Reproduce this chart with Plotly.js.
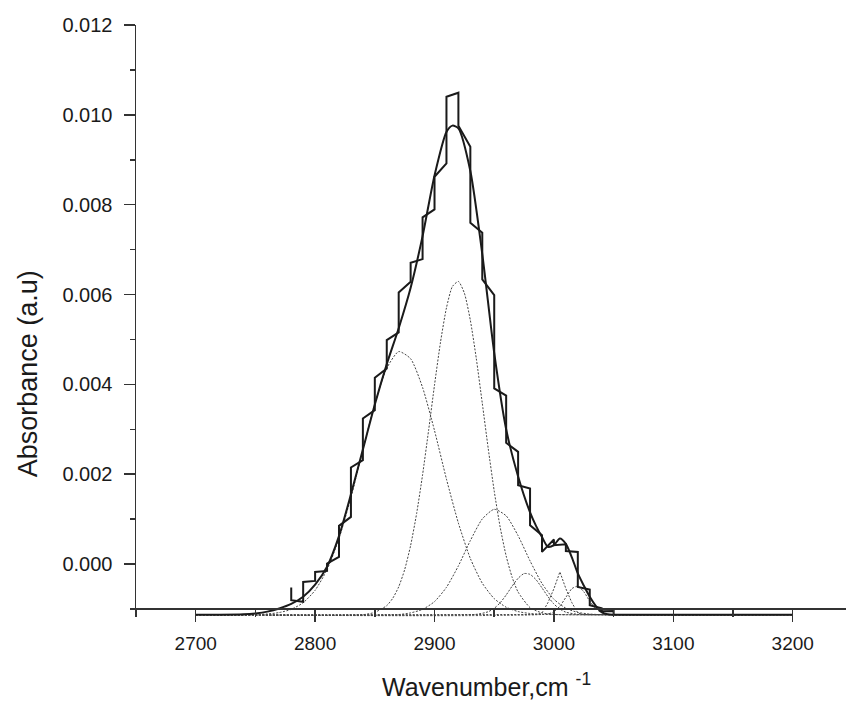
<!DOCTYPE html>
<html>
<head>
<meta charset="utf-8">
<script src="https://cdn.plot.ly/plotly-3.0.1.min.js"></script>
<style>html,body{margin:0;padding:0;background:#fff;}#chart{width:846px;height:702px;}</style>
</head>
<body>
<div id="chart"></div>
<script>
const specX = [2780,2780,2790,2790,2800,2800,2810,2810,2820,2820,2830,2830,2840,2840,2850,2850,2860,2860,2870,2870,2880,2880,2890,2890,2900,2900,2910,2910,2920,2920,2930,2930,2940,2940,2950,2950,2960,2960,2970,2970,2980,2980,2990,2990,3000,3000,3010,3010,3020,3020,3030,3030,3040,3040,3050,3050];
const specY = [-0.000524,-0.000806,-0.000842,-0.000399,-0.000376,-0.000176,-0.000154,0.000011,0.000158,0.000849,0.001049,0.002149,0.002312,0.003241,0.003425,0.004145,0.004354,0.004984,0.005155,0.006047,0.006283,0.006706,0.006788,0.007717,0.007895,0.008622,0.008920,0.010403,0.010493,0.009758,0.009290,0.007597,0.007374,0.006336,0.005987,0.003909,0.003750,0.002697,0.002497,0.001755,0.001681,0.000864,0.000641,0.000269,0.000546,0.000419,0.000440,0.000290,0.000269,-0.000510,-0.000568,-0.000918,-0.000984,-0.001050,-0.001045,-0.001130];

// Fitted envelope
const fitX = [2700,2720,2740,2750,2760,2770,2780,2790,2800,2810,2820,2830,2840,2850,2860,2870,2880,2890,2900,2910,2915,2920,2930,2940,2950,2960,2970,2980,2985,2990,2995,3000,3005,3010,3015,3020,3025,3030,3035,3040,3045,3050,3100,3150,3200];
const fitY = [-0.00113,-0.00113,-0.00112,-0.00110,-0.00106,-0.00099,-0.00089,-0.00073,-0.00046,-0.00006,0.00062,0.00155,0.00255,0.00355,0.00445,0.00525,0.00615,0.00730,0.00865,0.00962,0.00976,0.00970,0.00875,0.00690,0.00470,0.00300,0.00195,0.00115,0.00085,0.00060,0.00038,0.00042,0.00057,0.00045,0.00015,-0.00021,-0.00048,-0.00073,-0.00093,-0.00107,-0.00112,-0.00113,-0.00113,-0.00113,-0.00113];

// Component bands (dotted)
const band1X = [2700,2740,2750,2760,2770,2780,2790,2800,2810,2820,2830,2840,2850,2860,2870,2880,2890,2900,2910,2920,2930,2940,2950,2960,2970,2980,2990,3000,3050,3100,3150,3200];
const band1Y = [-0.00113,-0.00113,-0.001124,-0.001112,-0.001081,-0.001010,-0.000862,-0.000586,-0.000125,0.000566,0.00148,0.00254,0.00357,0.00436,0.00473,0.00457,0.00393,0.00297,0.00189,0.00091,0.000123,-0.000427,-0.000771,-0.000962,-0.001059,-0.001102,-0.001120,-0.001127,-0.00113,-0.00113,-0.00113,-0.00113];

const band2X = [2700,2840,2850,2860,2865,2870,2875,2880,2885,2890,2895,2900,2905,2910,2915,2920,2925,2930,2935,2940,2945,2950,2955,2960,2965,2970,2980,2990,3000,3010,3200];
const band2Y = [-0.00113,-0.001128,-0.001076,-0.000926,-0.000764,-0.000508,-0.000125,0.000414,0.001122,0.001986,0.002968,0.003987,0.004938,0.005703,0.00618,0.00629,0.00603,0.005427,0.004573,0.00358,0.002567,0.001623,0.000817,0.000178,-0.000295,-0.000625,-0.000971,-0.001089,-0.0011215,-0.00113,-0.00113];

const band3X = [2700,2870,2880,2890,2900,2910,2920,2930,2940,2950,2960,2970,2980,2990,3000,3010,3020,3030,3040,3200];
const band3Y = [-0.00113,-0.001125,-0.001088,-0.001010,-0.000837,-0.000518,-0.000041,0.000521,0.001003,0.001218,0.001073,0.000630,0.000069,-0.000434,-0.000786,-0.000985,-0.001078,-0.001114,-0.001128,-0.00113];

const band4X = [2700,2935,2945,2950,2955,2960,2965,2970,2975,2980,2985,2990,2995,3000,3005,3010,3020,3030,3200];
const band4Y = [-0.00113,-0.00112,-0.001062,-0.000987,-0.000862,-0.000690,-0.000493,-0.000318,-0.000212,-0.000231,-0.000349,-0.000532,-0.000727,-0.000891,-0.001005,-0.001073,-0.001122,-0.00113,-0.00113];

const band5X = [2700,2985,2990,2995,3000,3005,3010,3015,3020,3025,3200];
const band5Y = [-0.00113,-0.001125,-0.00109,-0.00086,-0.00055,-0.000176,-0.00055,-0.00086,-0.00109,-0.001125,-0.00113];

const band6X = [2700,2995,3000,3005,3010,3015,3020,3025,3030,3035,3040,3045,3200];
const band6Y = [-0.00113,-0.001112,-0.001061,-0.000939,-0.000742,-0.00055,-0.000494,-0.000617,-0.000827,-0.000998,-0.001088,-0.00112,-0.00113];

// Axes
const yTickVals = [0.000,0.002,0.004,0.006,0.008,0.010,0.012];
const yTickText = ["0.000","0.002","0.004","0.006","0.008","0.010","0.012"];
const xTickVals = [2700,2800,2900,3000,3100,3200];
const xTickText = ["2700","2800","2900","3000","3100","3200"];
const yRange = [-0.00118, 0.012];
const xRange = [2650, 3244.6];
const xAxisAt = -0.000985;

const FONT = '"Liberation Sans", Arial, Helvetica, sans-serif';
const dotted = {color:'#444444', width:1, dash:'2px,1.5px'};

const bands = [[band1X,band1Y,'spline'],[band2X,band2Y,'spline'],[band3X,band3Y,'spline'],[band4X,band4Y,'spline'],[band5X,band5Y,'linear'],[band6X,band6Y,'spline']];
const traces = bands.map(b => ({x:b[0], y:b[1], type:'scatter', mode:'lines', line:Object.assign({shape:b[2], smoothing:0.6}, dotted), hoverinfo:'skip'}));
traces.push({x:fitX, y:fitY, type:'scatter', mode:'lines', line:{color:'#1a1a1a', width:2, shape:'spline', smoothing:0.7}});
traces.push({x:specX, y:specY, type:'scatter', mode:'lines', line:{color:'#1a1a1a', width:2, shape:'linear'}});

const pos = (xAxisAt - yRange[0])/(yRange[1]-yRange[0]);

const layout = {
  width:846, height:702,
  margin:{l:136, r:0, t:25, b:85},
  paper_bgcolor:'#fff', plot_bgcolor:'#fff',
  showlegend:false,
  font:{family:FONT, color:'#1a1a1a'},
  xaxis:{
    range:xRange, anchor:'free', position:pos, side:'bottom',
    showgrid:false, zeroline:false, showline:true, linecolor:'#333', linewidth:1.5,
    tickmode:'array', tickvals:xTickVals, ticktext:xTickText,
    ticks:'outside', ticklen:12, tickwidth:1.5, tickcolor:'#333',
    ticklabelstandoff:5,
    minor:{dtick:50, tick0:2650, ticks:'outside', ticklen:7, tickwidth:1.5, tickcolor:'#333'},
    tickfont:{family:FONT, size:19, color:'#1a1a1a'}
  },
  yaxis:{
    range:yRange, showgrid:false, zeroline:false, showline:true, linecolor:'#333', linewidth:1.5,
    tickmode:'array', tickvals:yTickVals, ticktext:yTickText,
    ticks:'outside', ticklen:11, tickwidth:1.5, tickcolor:'#333',
    ticklabelstandoff:7,
    minor:{dtick:0.001, tick0:0, ticks:'outside', ticklen:5, tickwidth:1.5, tickcolor:'#333'},
    tickfont:{family:FONT, size:20, color:'#1a1a1a'}
  },
  annotations:[
    {text:'Absorbance (a.u)', xref:'paper', yref:'paper', x:-0.152, y:0.41, xanchor:'center', yanchor:'middle', textangle:-90, showarrow:false, font:{family:FONT, size:27, color:'#1a1a1a'}},
    {text:'Wavenumber,cm <sup>-1</sup>', xref:'paper', yref:'paper', x:0.494, y:-0.115, xanchor:'center', yanchor:'middle', showarrow:false, font:{family:FONT, size:25, color:'#1a1a1a'}}
  ]
};

Plotly.newPlot('chart', traces, layout, {staticPlot:true, displayModeBar:false});
</script>
</body>
</html>
